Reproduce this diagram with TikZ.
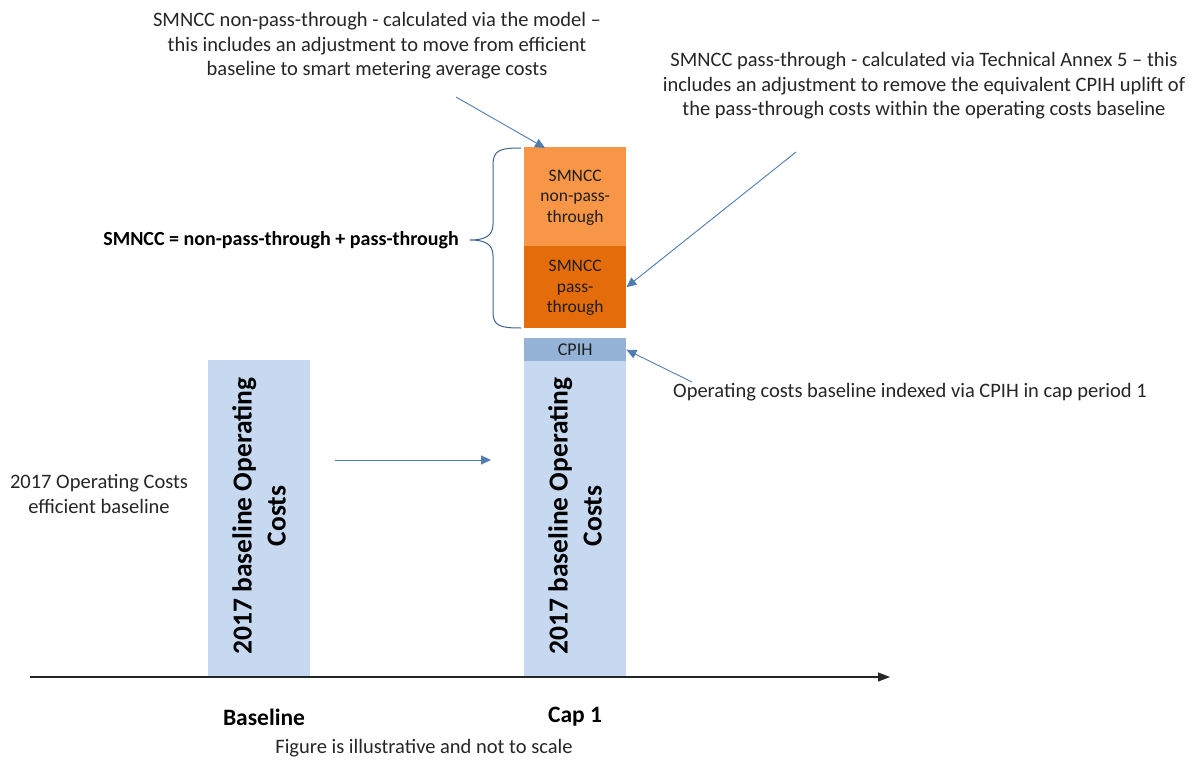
\documentclass[tikz,border=0pt]{standalone}
\usepackage{fontspec}
\setmainfont{Carlito}
\usetikzlibrary{arrows.meta}
\definecolor{barblue}{HTML}{C6D9F0}
\definecolor{cpihblue}{HTML}{95B3D7}
\definecolor{orangeA}{HTML}{F79646}
\definecolor{orangeB}{HTML}{E46C0A}
\definecolor{arrowblue}{HTML}{4F7DB0}
\definecolor{txt}{HTML}{262626}
\tikzset{
  bar/.style={fill=barblue, draw=none, minimum width=102pt, inner sep=0pt, anchor=north west},
  note/.style={align=center, text=txt, font=\fontsize{20.5}{24.5}\selectfont, inner sep=0pt},
  boxtxt/.style={align=center, text=txt!80!black, font=\fontsize{17.5}{20.5}\selectfont, inner sep=0pt},
  rottxt/.style={rotate=90, align=center, text=black, font=\fontsize{27.5}{34}\selectfont\bfseries, inner sep=0pt},
  arr/.style={draw=arrowblue, line width=0.9pt, -{Triangle[width=9pt,length=10pt]}},
  lbl/.style={text=black, font=\fontsize{23.5}{28}\selectfont\bfseries, inner sep=0pt}
}
\begin{document}
\begin{tikzpicture}[x=1pt,y=-1pt]
\useasboundingbox (0,0) rectangle (1203,760);
\fill[white] (0,0) rectangle (1203,760);
% bars
\node[bar, minimum height=316pt] (base) at (208,360) {};
\node[bar, minimum height=315pt] (cap) at (524,361) {};
\node[bar, fill=cpihblue, minimum height=23pt] (cpih) at (524,338) {};
\node[bar, fill=orangeB, minimum height=82pt] (pass) at (524,246) {};
\node[bar, fill=orangeA, minimum height=99pt] (npass) at (524,147) {};
% box texts
\node[boxtxt] at ([yshift=-1pt]npass.center) {SMNCC\\non-pass-\\through};
\node[boxtxt] at ([yshift=-1pt]pass.center) {SMNCC\\pass-\\through};
\node[boxtxt, font=\fontsize{18}{18}\selectfont] at (cpih.center) {CPIH};
\node[rottxt] at (259,516) {2017 baseline Operating\\Costs};
\node[rottxt] at (575,516) {2017 baseline Operating\\Costs};
% axis
\coordinate (axl) at (30,677);
\coordinate (axr) at (890,677);
\draw[line width=1.2pt, draw=black!85, -{Triangle[width=9pt,length=12pt]}] (axl) -- (axr);
% labels
\node[lbl] (lb) at (264,717) {Baseline};
\node[lbl] (lc) at (575,717) {Cap 1};
\node[note] (fig) at (424,748) {Figure is illustrative and not to scale};
\node[note] (eff) at (99,494) {2017 Operating Costs\\efficient baseline};
% middle arrow
\coordinate (ma) at (335,460);
\coordinate (mb) at (491,460);
\draw[arr] (ma) -- (mb);
% top notes
\node[note] (n1) at (377,46) {SMNCC non-pass-through - calculated via the model --\\this includes an adjustment to move from efficient\\baseline to smart metering average costs};
\node[note] (n2) at (924,86) {SMNCC pass-through - calculated via Technical Annex 5 -- this\\includes an adjustment to remove the equivalent CPIH uplift of\\the pass-through costs within the operating costs baseline};
\node[note, anchor=west] (n3) at (673,392) {Operating costs baseline indexed via CPIH in cap period 1};
\coordinate (a1s) at (456,97);
\coordinate (a2s) at (796,152);
\coordinate (a3s) at (692,382);
\draw[arr] (a1s) -- (545,148);
\draw[arr] (a2s) -- (pass.east);
\draw[arr] (a3s) -- (cpih.east);
% brace
\draw[draw=arrowblue!80!black, line width=1pt]
  (521,148) .. controls (500,148) and (493,150) .. (493,165)
  -- (493,224) .. controls (493,236) and (485,240) .. (470,240)
  .. controls (485,240) and (493,244) .. (493,256)
  -- (493,312) .. controls (493,326) and (500,328) .. (521,328);
\node[lbl, font=\fontsize{20}{24}\selectfont\bfseries, anchor=east] (eq) at (459,240) {SMNCC = non-pass-through + pass-through};
\end{tikzpicture}
\end{document}
